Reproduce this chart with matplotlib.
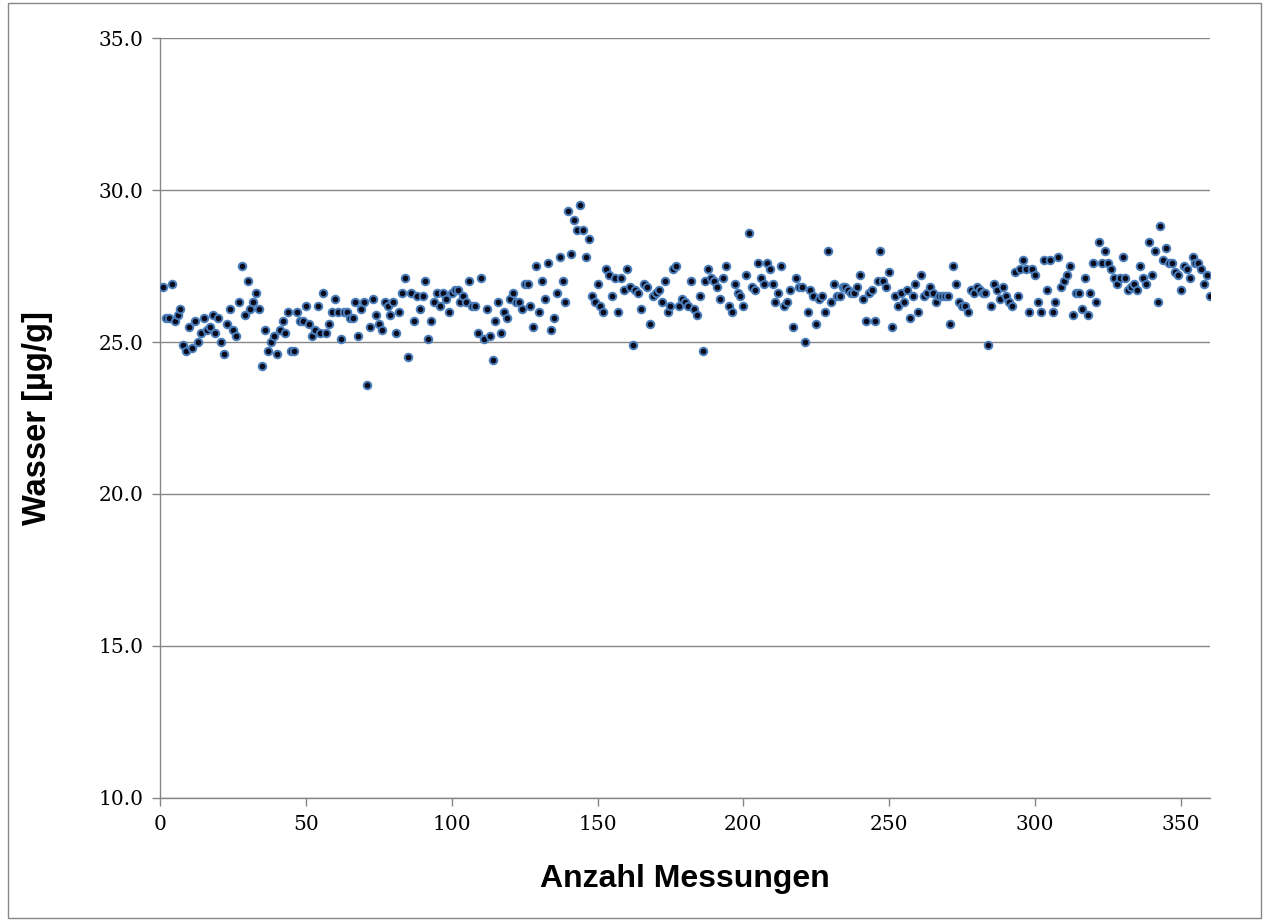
import numpy as np
import matplotlib
matplotlib.use('Agg')
import matplotlib.pyplot as plt
from matplotlib.patches import Rectangle

wasser = [
    26.8, 25.8, 25.8, 26.9, 25.7, 25.9, 26.1, 24.9, 24.7, 25.5,
    24.8, 25.7, 25.0, 25.3, 25.8, 25.4, 25.5, 25.9, 25.3, 25.8,
    25.0, 24.6, 25.6, 26.1, 25.4, 25.2, 26.3, 27.5, 25.9, 27.0,
    26.1, 26.3, 26.6, 26.1, 24.2, 25.4, 24.7, 25.0, 25.2, 24.6,
    25.4, 25.7, 25.3, 26.0, 24.7, 24.7, 26.0, 25.7, 25.7, 26.2,
    25.6, 25.2, 25.4, 26.2, 25.3, 26.6, 25.3, 25.6, 26.0, 26.4,
    26.0, 25.1, 26.0, 26.0, 25.8, 25.8, 26.3, 25.2, 26.1, 26.3,
    23.6, 25.5, 26.4, 25.9, 25.6, 25.4, 26.3, 26.2, 25.9, 26.3,
    25.3, 26.0, 26.6, 27.1, 24.5, 26.6, 25.7, 26.5, 26.1, 26.5,
    27.0, 25.1, 25.7, 26.3, 26.6, 26.2, 26.6, 26.4, 26.0, 26.6,
    26.7, 26.7, 26.3, 26.5, 26.3, 27.0, 26.2, 26.2, 25.3, 27.1,
    25.1, 26.1, 25.2, 24.4, 25.7, 26.3, 25.3, 26.0, 25.8, 26.4,
    26.6, 26.3, 26.3, 26.1, 26.9, 26.9, 26.2, 25.5, 27.5, 26.0,
    27.0, 26.4, 27.6, 25.4, 25.8, 26.6, 27.8, 27.0, 26.3, 29.3,
    27.9, 29.0, 28.7, 29.5, 28.7, 27.8, 28.4, 26.5, 26.3, 26.9,
    26.2, 26.0, 27.4, 27.2, 26.5, 27.1, 26.0, 27.1, 26.7, 27.4,
    26.8, 24.9, 26.7, 26.6, 26.1, 26.9, 26.8, 25.6, 26.5, 26.6,
    26.7, 26.3, 27.0, 26.0, 26.2, 27.4, 27.5, 26.2, 26.4, 26.3,
    26.2, 27.0, 26.1, 25.9, 26.5, 24.7, 27.0, 27.4, 27.1, 27.0,
    26.8, 26.4, 27.1, 27.5, 26.2, 26.0, 26.9, 26.6, 26.5, 26.2,
    27.2, 28.6, 26.8, 26.7, 27.6, 27.1, 26.9, 27.6, 27.4, 26.9,
    26.3, 26.6, 27.5, 26.2, 26.3, 26.7, 25.5, 27.1, 26.8, 26.8,
    25.0, 26.0, 26.7, 26.5, 25.6, 26.4, 26.5, 26.0, 28.0, 26.3,
    26.9, 26.5, 26.5, 26.8, 26.8, 26.7, 26.6, 26.6, 26.8, 27.2,
    26.4, 25.7, 26.6, 26.7, 25.7, 27.0, 28.0, 27.0, 26.8, 27.3,
    25.5, 26.5, 26.2, 26.6, 26.3, 26.7, 25.8, 26.5, 26.9, 26.0,
    27.2, 26.5, 26.6, 26.8, 26.6, 26.3, 26.5, 26.5, 26.5, 26.5,
    25.6, 27.5, 26.9, 26.3, 26.2, 26.2, 26.0, 26.7, 26.6, 26.8,
    26.7, 26.6, 26.6, 24.9, 26.2, 26.9, 26.7, 26.4, 26.8, 26.5,
    26.3, 26.2, 27.3, 26.5, 27.4, 27.7, 27.4, 26.0, 27.4, 27.2,
    26.3, 26.0, 27.7, 26.7, 27.7, 26.0, 26.3, 27.8, 26.8, 27.0,
    27.2, 27.5, 25.9, 26.6, 26.6, 26.1, 27.1, 25.9, 26.6, 27.6,
    26.3, 28.3, 27.6, 28.0, 27.6, 27.4, 27.1, 26.9, 27.1, 27.8,
    27.1, 26.7, 26.8, 26.9, 26.7, 27.5, 27.1, 26.9, 28.3, 27.2,
    28.0, 26.3, 28.8, 27.7, 28.1, 27.6, 27.6, 27.3, 27.2, 26.7,
    27.5, 27.4, 27.1, 27.8, 27.6, 27.6, 27.4, 26.9, 27.2, 26.5,
]
messung = np.arange(1, len(wasser) + 1)

y_ticks = [10.0, 15.0, 20.0, 25.0, 30.0, 35.0]
x_ticks = [0, 50, 100, 150, 200, 250, 300, 350]

grey = '#868686'

fig = plt.figure(figsize=(12.64, 9.21), dpi=100)
ax = fig.add_axes([0.1266, 0.1336, 0.8307, 0.8251])

ax.scatter(messung, wasser, s=30, facecolor='#0b0b1e', edgecolor='#4a7ebb',
           linewidth=1.4, zorder=3)

ax.set_xlim(0, 360)
ax.set_ylim(10, 35)
ax.set_xticks(x_ticks)
ax.set_yticks(y_ticks)
ax.set_yticklabels(['%.1f' % v for v in y_ticks])
ax.yaxis.grid(True, color=grey, linewidth=1.0)
ax.set_axisbelow(True)

for side in ['top', 'right']:
    ax.spines[side].set_visible(False)
for side in ['left', 'bottom']:
    ax.spines[side].set_color(grey)
    ax.spines[side].set_linewidth(1.0)

ax.tick_params(axis='both', direction='out', length=6, width=1.0, color=grey,
               labelsize=14.5, pad=6)
for lab in ax.get_xticklabels() + ax.get_yticklabels():
    lab.set_family('DejaVu Serif')

ax.set_xlabel('Anzahl Messungen', fontsize=23, fontweight='bold',
              family='Liberation Sans', labelpad=22)
ax.set_ylabel('Wasser [µg/g]', fontsize=23.5, fontweight='bold',
              family='Liberation Sans', labelpad=33)

# thin frame round the whole chart area
fig.patches.append(Rectangle((0.006, 0.003), 0.992, 0.994, transform=fig.transFigure,
                             fill=False, edgecolor=grey, linewidth=1.0))

fig.savefig('out.png', dpi=100)
